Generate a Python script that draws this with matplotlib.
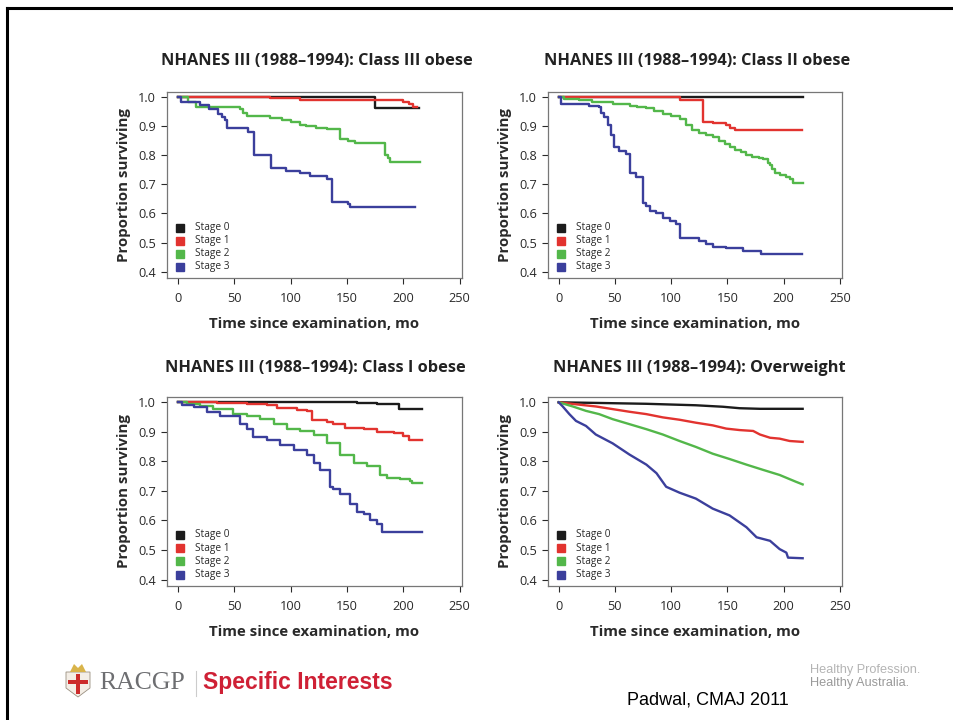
import numpy as np
import matplotlib
matplotlib.use('Agg')
import matplotlib.pyplot as plt
from matplotlib.patches import Polygon, Rectangle
from matplotlib.lines import Line2D

W, H = 954, 720

stages = ['Stage 0', 'Stage 1', 'Stage 2', 'Stage 3']
colors = ['#1c1c1c', '#e2332f', '#53b74a', '#3b3f9c']

titles = [
    'NHANES III (1988\u20131994): Class III obese',
    'NHANES III (1988\u20131994): Class II obese',
    'NHANES III (1988\u20131994): Class I obese',
    'NHANES III (1988\u20131994): Overweight',
]

# Class III obese
c3_t0 = [0, 175, 214]
c3_s0 = [1.0, 0.963, 0.963]
c3_t1 = [0, 82, 108, 200, 205, 209, 212]
c3_s1 = [1.0, 0.996, 0.99, 0.985, 0.977, 0.968, 0.968]
c3_t2 = [0, 9, 16.5, 55, 58, 61, 82, 92, 100, 108, 114, 123, 132, 144, 151, 157, 184, 186.5, 188, 215]
c3_s2 = [1.0, 0.985, 0.968, 0.961, 0.945, 0.934, 0.927, 0.921, 0.915, 0.906, 0.9, 0.895, 0.889,
         0.855, 0.85, 0.841, 0.801, 0.79, 0.776, 0.776]
c3_t3 = [0, 3.3, 19.5, 28, 36, 39, 42, 44, 62, 68, 83, 96, 108, 117, 132, 137, 151, 153, 210]
c3_s3 = [1.0, 0.982, 0.973, 0.961, 0.944, 0.933, 0.921, 0.895, 0.881, 0.8, 0.756, 0.745, 0.739,
         0.729, 0.717, 0.64, 0.632, 0.624, 0.624]

# Class II obese
c2_t0 = [0, 217]
c2_s0 = [1.0, 1.0]
c2_t1 = [0, 107.5, 128, 137, 149, 152, 156.5, 216]
c2_s1 = [1.0, 0.99, 0.916, 0.91, 0.904, 0.895, 0.888, 0.888]
c2_t2 = [0, 5, 18, 30, 48, 63, 70, 78, 85, 93, 100, 107.5, 113, 119, 125, 131, 137, 143, 148, 152,
         157, 162, 167, 172, 178, 182, 186, 188, 190, 192, 197, 202.5, 206, 208, 217]
c2_s2 = [1.0, 0.995, 0.989, 0.983, 0.977, 0.969, 0.965, 0.962, 0.953, 0.943, 0.935, 0.926, 0.905,
         0.886, 0.878, 0.87, 0.863, 0.851, 0.84, 0.829, 0.82, 0.81, 0.8, 0.795, 0.79, 0.789, 0.775,
         0.767, 0.752, 0.738, 0.733, 0.727, 0.72, 0.704, 0.704]
c2_t3 = [0, 2, 18, 27, 36, 37.7, 40.7, 43.6, 46.6, 49.6, 54, 60, 63, 69, 75, 78, 81, 87, 93, 99,
         104.5, 107.5, 125, 131, 137, 149, 164, 180, 216]
c2_s3 = [1.0, 0.977, 0.975, 0.97, 0.965, 0.945, 0.932, 0.903, 0.869, 0.829, 0.815, 0.806, 0.738,
         0.725, 0.636, 0.625, 0.61, 0.6, 0.585, 0.575, 0.565, 0.514, 0.505, 0.495, 0.485, 0.48,
         0.47, 0.46, 0.46]

# Class I obese
c1_t0 = [0, 159, 176.6, 196, 216.6]
c1_s0 = [1.0, 0.998, 0.995, 0.977, 0.977]
c1_t1 = [0, 34.6, 61, 79, 88, 105.6, 114.5, 119, 132, 138, 148.5, 165, 176.6, 191.4, 200, 204.7, 216.6]
c1_s1 = [1.0, 0.998, 0.995, 0.99, 0.98, 0.975, 0.97, 0.94, 0.935, 0.925, 0.914, 0.91, 0.9, 0.895,
         0.885, 0.874, 0.873]
c1_t2 = [0, 8, 19.8, 31.7, 49.4, 61, 73, 85, 96.7, 108.6, 120.4, 132, 144, 156, 167.8, 179.6,
         185.5, 197, 206, 207.7, 216.6]
c1_s2 = [1.0, 0.994, 0.986, 0.977, 0.96, 0.952, 0.943, 0.926, 0.911, 0.903, 0.888, 0.863, 0.823,
         0.794, 0.783, 0.754, 0.745, 0.741, 0.735, 0.726, 0.726]
c1_t3 = [0, 3.6, 14, 25.7, 37.6, 55, 61, 67, 79, 90.8, 102.7, 114.5, 120.4, 126.3, 135, 138, 144,
         153, 159, 164.8, 170.7, 176.6, 181, 216.6]
c1_s3 = [1.0, 0.992, 0.983, 0.966, 0.954, 0.926, 0.909, 0.883, 0.872, 0.857, 0.84, 0.823, 0.794,
         0.771, 0.714, 0.705, 0.691, 0.657, 0.629, 0.623, 0.602, 0.589, 0.56, 0.56]

# Overweight
ow_t0 = [0, 33, 78, 122, 146, 161, 179, 217]
ow_s0 = [1.0, 0.998, 0.995, 0.99, 0.985, 0.98, 0.978, 0.978]
ow_t1 = [0, 18.4, 33, 48, 63, 78, 92.6, 107.5, 122, 137, 149, 161, 173, 179, 188, 196.5, 205.5, 217]
ow_s1 = [1.0, 0.992, 0.986, 0.977, 0.968, 0.96, 0.949, 0.941, 0.931, 0.922, 0.911, 0.906, 0.903,
         0.891, 0.88, 0.877, 0.869, 0.866]
ow_t2 = [0, 12.5, 24.3, 36, 48, 63, 78, 92.6, 107.5, 122, 137, 152, 167, 182, 196.5, 211, 217]
ow_s2 = [1.0, 0.986, 0.971, 0.96, 0.943, 0.926, 0.909, 0.891, 0.869, 0.849, 0.826, 0.808, 0.789,
         0.771, 0.754, 0.731, 0.722]
ow_t3 = [0, 3.6, 9.5, 15.4, 24.3, 33, 48, 63, 78, 87, 95.6, 107.5, 122, 137, 152, 167, 176, 188,
         196.5, 202.5, 204, 217]
ow_s3 = [1.0, 0.986, 0.96, 0.937, 0.92, 0.891, 0.861, 0.823, 0.789, 0.76, 0.714, 0.694, 0.674,
         0.64, 0.617, 0.577, 0.543, 0.531, 0.503, 0.491, 0.474, 0.472]

panels = [
    [(c3_t0, c3_s0), (c3_t1, c3_s1), (c3_t2, c3_s2), (c3_t3, c3_s3)],
    [(c2_t0, c2_s0), (c2_t1, c2_s1), (c2_t2, c2_s2), (c2_t3, c2_s3)],
    [(c1_t0, c1_s0), (c1_t1, c1_s1), (c1_t2, c1_s2), (c1_t3, c1_s3)],
    [(ow_t0, ow_s0), (ow_t1, ow_s1), (ow_t2, ow_s2), (ow_t3, ow_s3)],
]

xticks = [0, 50, 100, 150, 200, 250]
yticks = [0.4, 0.5, 0.6, 0.7, 0.8, 0.9, 1.0]

# axes boxes in pixels: left, top, right, bottom
boxes = [(167, 92, 462, 278), (548, 92, 842, 278),
         (167, 397, 462, 586), (548, 397, 842, 586)]
title_pos = [(317, 61), (697, 61), (315, 368), (699, 368)]

plt.rcParams['font.family'] = ['Open Sans', 'DejaVu Sans']

fig = plt.figure(figsize=(W / 100, H / 100), dpi=100)


def fx(x):
    return x / W


def fy(y):
    return 1 - y / H


for i, (l, t, r, b) in enumerate(boxes):
    ax = fig.add_axes([fx(l), fy(b), (r - l) / W, (b - t) / H])
    for k, (tt, ss) in enumerate(panels[i]):
        if i == 3:
            ax.plot(tt, ss, color=colors[k], lw=1.7)
        else:
            ax.step(tt, ss, where='post', color=colors[k], lw=1.7)
    ax.set_xlim(-9.5, 252)
    ax.set_ylim(0.378, 1.018)
    ax.set_xticks(xticks)
    ax.set_yticks(yticks)
    ax.set_yticklabels(['%.1f' % v for v in yticks])
    ax.tick_params(labelsize=9.2, colors='#2a2a2a', length=4, width=0.8)
    ax.tick_params(axis='x', pad=6)
    ax.tick_params(axis='y', pad=4)
    for sp in ax.spines.values():
        sp.set_color('#777777')
        sp.set_linewidth(0.9)
    ax.set_xlabel('Time since examination, mo', fontsize=10.8, fontweight='bold',
                  color='#2a2a2a', labelpad=9)
    ax.set_ylabel('Proportion surviving', fontsize=10.8, fontweight='bold',
                  color='#2a2a2a', labelpad=5)

    # small legend in the lower-left corner
    for k, name in enumerate(stages):
        yy = 0.27 - k * 0.07
        ax.plot([0.045], [yy], marker='s', ms=5.5, color=colors[k], mec=colors[k],
                transform=ax.transAxes, clip_on=False)
        ax.text(0.095, yy, name, fontsize=7.3, color='#2a2a2a', va='center',
                transform=ax.transAxes)

    cx, cy = title_pos[i]
    fig.text(fx(cx), fy(cy), titles[i], ha='center', va='center', fontsize=11.8,
             fontweight='bold', color='#222222')

# slide frame
fig.add_artist(Line2D([fx(7.5), fx(7.5)], [0, fy(7.5)], color='black', lw=2.2))
fig.add_artist(Line2D([fx(7.5), 1], [fy(7.5), fy(7.5)], color='black', lw=2.2))

# footer: crest, wordmark and tagline
crest = Polygon([[fx(66), fy(672)], [fx(90), fy(672)], [fx(90), fy(688)],
                 [fx(78), fy(697)], [fx(66), fy(688)]], closed=True,
                facecolor='#f4eee6', edgecolor='#9a8f80', lw=0.6)
fig.add_artist(crest)
fig.add_artist(Rectangle((fx(76), fy(694)), 4 / W, 20 / H, color='#cc2b2b', lw=0))
fig.add_artist(Rectangle((fx(68), fy(684)), 20 / W, 4 / H, color='#cc2b2b', lw=0))
fig.add_artist(Polygon([[fx(70), fy(672)], [fx(74), fy(664)], [fx(78), fy(668)],
                        [fx(82), fy(664)], [fx(86), fy(672)]], closed=True,
                       facecolor='#d9b44a', edgecolor='none'))
fig.text(fx(99), fy(683), 'RACGP', family='Liberation Serif', fontsize=18.5,
         color='#6d6e71', va='center', ha='left')
fig.add_artist(Line2D([fx(196), fx(196)], [fy(671), fy(696)], color='#cccccc', lw=0.8))
fig.text(fx(203), fy(683), 'Specific Interests', family='Liberation Sans', fontsize=16.5,
         fontweight='bold', color='#cf2035', va='center', ha='left')
fig.text(fx(627), fy(700), 'Padwal, CMAJ 2011', family='Liberation Sans', fontsize=13,
         color='black', va='center', ha='left')
fig.text(fx(810), fy(670), 'Healthy Profession.', family='Liberation Sans', fontsize=9.2,
         color='#b4b4b4', va='center', ha='left')
fig.text(fx(810), fy(683), 'Healthy Australia.', family='Liberation Sans', fontsize=9.2,
         color='#9a9a9a', va='center', ha='left')

fig.savefig('out.png', dpi=100)
